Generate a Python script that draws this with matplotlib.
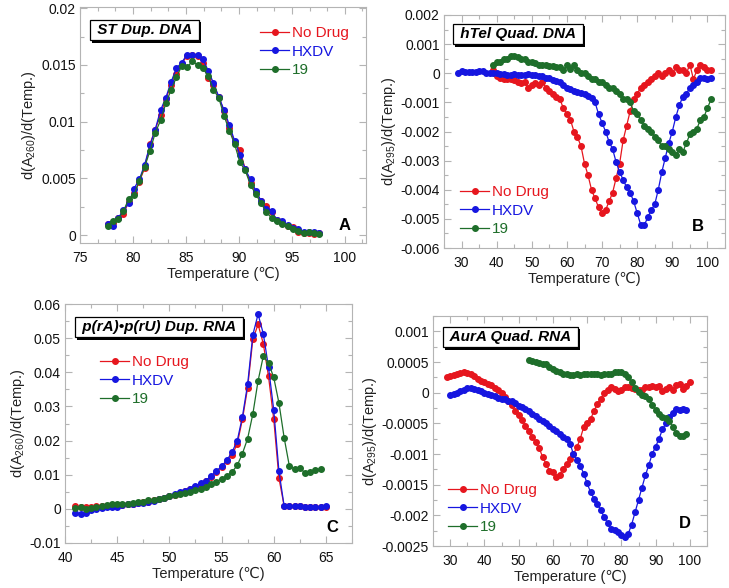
import matplotlib
matplotlib.use('Agg')
import matplotlib.pyplot as plt
from matplotlib.ticker import AutoMinorLocator, MultipleLocator, FuncFormatter
import matplotlib.patheffects as pe
from matplotlib.lines import Line2D

plt.rcParams['font.family'] = ['Liberation Sans', 'DejaVu Sans']
plt.rcParams['mathtext.fontset'] = 'custom'
plt.rcParams['mathtext.rm'] = 'Liberation Sans'
plt.rcParams['mathtext.default'] = 'regular'

# ---------------- data ----------------
labels = ['No Drug', 'HXDV', '19']
colors = ['#e6161e', '#1616e0', '#1e6e2a']

# Panel A: ST duplex DNA
a_x = [77.6, 78.1, 78.6, 79.1, 79.6, 80.1, 80.6, 81.1, 81.6, 82.1, 82.6, 83.1, 83.6, 84.1,
       84.6, 85.1, 85.6, 86.1, 86.6, 87.1, 87.6, 88.1, 88.6, 89.1, 89.6, 90.1, 90.6, 91.1,
       91.6, 92.1, 92.6, 93.1, 93.6, 94.1, 94.6, 95.1, 95.6, 96.1, 96.6, 97.1, 97.6]
a_nodrug = [0.0010, 0.0011, 0.0015, 0.0019, 0.0029, 0.0037, 0.0047, 0.0059, 0.0080, 0.0093,
            0.0106, 0.0120, 0.0132, 0.0142, 0.0151, 0.0158, 0.0159, 0.0158, 0.0152, 0.0138,
            0.0132, 0.0122, 0.0109, 0.0094, 0.0082, 0.0075, 0.0058, 0.0046, 0.0038, 0.0030,
            0.0026, 0.0020, 0.0013, 0.0011, 0.0008, 0.0007, 0.0003, 0.0002, 0.0002, 0.0001, 0.0002]
a_hxdv = [0.0010, 0.0008, 0.0015, 0.0022, 0.0028, 0.0041, 0.0049, 0.0062, 0.0079, 0.0093,
          0.0110, 0.0121, 0.0135, 0.0147, 0.0152, 0.0159, 0.0159, 0.0159, 0.0155, 0.0145,
          0.0134, 0.0122, 0.0110, 0.0097, 0.0083, 0.0071, 0.0058, 0.0049, 0.0039, 0.0030,
          0.0023, 0.0021, 0.0013, 0.0012, 0.0009, 0.0006, 0.0005, 0.0003, 0.0003, 0.0003, 0.0002]
a_19 = [0.0008, 0.0012, 0.0014, 0.0021, 0.0032, 0.0035, 0.0048, 0.0060, 0.0074, 0.0090,
        0.0101, 0.0116, 0.0128, 0.0139, 0.0149, 0.0148, 0.0153, 0.0150, 0.0147, 0.0140,
        0.0128, 0.0121, 0.0105, 0.0092, 0.0080, 0.0064, 0.0057, 0.0044, 0.0036, 0.0028,
        0.0020, 0.0015, 0.0012, 0.0010, 0.0008, 0.0005, 0.0004, 0.0002, 0.0003, 0.0002, 0.0001]

# Panel B: hTel quadruplex DNA
b_x_nodrug = [39, 40, 41, 42, 43, 44, 45, 46, 47, 48, 49, 50, 51, 52, 53, 54, 55, 56, 57, 58,
              59, 60, 61, 62, 63, 64, 65, 66, 67, 68, 69, 70, 71, 72, 73, 74, 75, 76, 77, 78,
              79, 80, 81, 82, 83, 84, 85, 86, 87, 88, 89, 90, 91, 92, 93, 94, 95, 96, 97, 98,
              99, 100, 101]
b_nodrug = [0.0001, -0.0001, -0.00015, -0.0002, -0.0002, -0.0002, -0.00022, -0.0003, -0.00035, -0.0003,
            -0.0005, -0.0004, -0.00035, -0.0004, -0.0003, -0.0005, -0.0006, -0.0007, -0.0008, -0.0009,
            -0.0012, -0.0014, -0.0016, -0.0020, -0.0022, -0.0025, -0.0031, -0.0035, -0.0040, -0.0043,
            -0.0046, -0.0048, -0.0047, -0.0044, -0.0041, -0.0036, -0.0031, -0.0023, -0.0018, -0.0013,
            -0.0009, -0.0007, -0.0005, -0.0004, -0.0003, -0.0002, -0.0001, 0.0000, -0.0001, 0.0000,
            0.0001, 0.0000, 0.0002, 0.0001, 0.0001, 0.0000, 0.0003, -0.0002, 0.0001, 0.0003,
            0.0002, 0.0001, 0.0001]
b_x_hxdv = [29, 30, 31, 32, 33, 34, 35, 36, 37, 38, 39, 40, 41, 42, 43, 44, 45, 46, 47, 48,
            49, 50, 51, 52, 53, 54, 55, 56, 57, 58, 59, 60, 61, 62, 63, 64, 65, 66, 67, 68,
            69, 70, 71, 72, 73, 74, 75, 76, 77, 78, 79, 80, 81, 82, 83, 84, 85, 86, 87, 88,
            89, 90, 91, 92, 93, 94, 95, 96, 97, 98, 99, 100, 101]
b_hxdv = [0.0000, 0.00008, 0.00006, 0.00005, 0.00006, 0.00004, 0.00007, 0.00008, 0.00002, 0.0000,
          0.00002, 0.0000, -0.00002, -0.00003, -0.00005, -0.00005, -0.00004, -0.00005, -0.00006, -0.00005,
          -0.00004, -0.00006, -0.00005, -0.00008, -0.0001, -0.00015, -0.00018, -0.00022, -0.00028, -0.0003,
          -0.00042, -0.00052, -0.00055, -0.0006, -0.00064, -0.00068, -0.0007, -0.00078, -0.00086, -0.001,
          -0.0014, -0.0017, -0.0020, -0.00235, -0.0026, -0.00305, -0.0034, -0.00365, -0.00392, -0.0041,
          -0.0044, -0.0048, -0.0052, -0.00522, -0.00495, -0.0047, -0.0045, -0.0040, -0.0034, -0.0029,
          -0.0024, -0.0020, -0.0015, -0.0011, -0.0008, -0.0007, -0.0005, -0.0004, -0.0003, -0.00015,
          -0.00018, -0.0002, -0.00018]
b_x_19 = [39, 40, 41, 42, 43, 44, 45, 46, 47, 48, 49, 50, 51, 52, 53, 54, 55, 56, 57, 58,
          59, 60, 61, 62, 63, 64, 65, 66, 67, 68, 69, 70, 71, 72, 73, 74, 75, 76, 77, 78,
          79, 80, 81, 82, 83, 84, 85, 86, 87, 88, 89, 90, 91, 92, 93, 94, 95, 96, 97, 98,
          99, 100, 101]
b_19 = [0.0003, 0.0004, 0.0004, 0.0005, 0.0005, 0.0006, 0.00058, 0.00055, 0.0005, 0.0005,
        0.0004, 0.0004, 0.00035, 0.0003, 0.0003, 0.00028, 0.00025, 0.00025, 0.0002, 0.0002,
        0.0001, 0.0003, 0.00015, 0.0003, 0.0001, 0.0000, 0.0000, -0.0001, -0.0002, -0.0002,
        -0.0003, -0.0003, -0.0004, -0.0005, -0.0005, -0.0006, -0.0007, -0.0009, -0.0009, -0.0010,
        -0.0013, -0.0014, -0.0016, -0.0018, -0.0019, -0.0020, -0.0022, -0.0023, -0.0025, -0.0025,
        -0.0026, -0.0027, -0.0028, -0.0026, -0.0027, -0.0024, -0.0021, -0.0020, -0.0019, -0.0016,
        -0.0015, -0.0012, -0.0009]

# Panel C: p(rA).p(rU) duplex RNA
c_x = [41, 41.5, 42, 42.5, 43, 43.5, 44, 44.5, 45, 45.5, 46, 46.5, 47, 47.5, 48, 48.5, 49,
       49.5, 50, 50.5, 51, 51.5, 52, 52.5, 53, 53.5, 54, 54.5, 55, 55.5, 56, 56.5, 57, 57.5,
       58, 58.5, 59, 59.5, 60, 60.5, 61, 61.5, 62, 62.5, 63, 63.5, 64, 64.5, 65]
c_nodrug = [0.0007, 0.0006, 0.0006, 0.0006, 0.0007, 0.0008, 0.0009, 0.0010, 0.0011, 0.0012,
            0.0013, 0.0015, 0.0017, 0.0019, 0.0021, 0.0025, 0.0029, 0.0033, 0.0037, 0.0042,
            0.0047, 0.0052, 0.0058, 0.0065, 0.0073, 0.0082, 0.0093, 0.0107, 0.0123, 0.0140,
            0.0157, 0.0190, 0.0262, 0.0355, 0.0497, 0.0540, 0.0484, 0.0388, 0.0263, 0.0090,
            0.0008, 0.0007, 0.0008, 0.0007, 0.0006, 0.0005, 0.0005, 0.0005, 0.0006]
c_hxdv = [-0.0012, -0.0014, -0.0012, -0.0003, 0.0000, 0.0002, 0.0004, 0.0005, 0.0006, 0.0010,
          0.0013, 0.0014, 0.0016, 0.0018, 0.0019, 0.0022, 0.0028, 0.0033, 0.0038, 0.0043,
          0.0048, 0.0052, 0.0057, 0.0066, 0.0075, 0.0083, 0.0096, 0.0110, 0.0125, 0.0142,
          0.0166, 0.0199, 0.0270, 0.0365, 0.0510, 0.0570, 0.0513, 0.0415, 0.0290, 0.0110,
          0.0008, 0.0008, 0.0007, 0.0007, 0.0006, 0.0005, 0.0005, 0.0005, 0.0007]
c_x_19 = [41, 41.5, 42, 42.5, 43, 43.5, 44, 44.5, 45, 45.5, 46, 46.5, 47, 47.5, 48, 48.5, 49,
          49.5, 50, 50.5, 51, 51.5, 52, 52.5, 53, 53.5, 54, 54.5, 55, 55.5, 56, 56.5, 57, 57.5,
          58, 58.5, 59, 59.5, 60, 60.5, 61, 61.5, 62, 62.5, 63, 63.5, 64, 64.5]
c_19 = [0.0003, 0.0004, 0.0000, 0.0003, 0.0005, 0.0009, 0.0011, 0.0013, 0.0014, 0.0013,
        0.0014, 0.0016, 0.0019, 0.0021, 0.0025, 0.0027, 0.0030, 0.0033, 0.0037, 0.0040,
        0.0043, 0.0046, 0.0050, 0.0054, 0.0058, 0.0063, 0.0072, 0.0080, 0.0088, 0.0096,
        0.0108, 0.0127, 0.0162, 0.0206, 0.0278, 0.0375, 0.0447, 0.0427, 0.0385, 0.0310,
        0.0208, 0.0125, 0.0117, 0.0120, 0.0105, 0.0108, 0.0113, 0.0118]

# Panel D: AurA quadruplex RNA
d_x_nodrug = [29, 30, 31, 32, 33, 34, 35, 36, 37, 38, 39, 40, 41, 42, 43, 44, 45, 46, 47, 48,
              49, 50, 51, 52, 53, 54, 55, 56, 57, 58, 59, 60, 61, 62, 63, 64, 65, 66, 67, 68,
              69, 70, 71, 72, 73, 74, 75, 76, 77, 78, 79, 80, 81, 82, 83, 84, 85, 86, 87, 88,
              89, 90, 91, 92, 93, 94, 95, 96, 97, 98, 99, 100]
d_nodrug = [0.00025, 0.00027, 0.00029, 0.0003, 0.00032, 0.00033, 0.00032, 0.0003, 0.00027, 0.00022,
            0.00019, 0.00017, 0.00014, 0.00012, 0.00008, 0.00004, 0.0, -0.00007, -0.00013, -0.0002,
            -0.0003, -0.00037, -0.00045, -0.00054, -0.00062, -0.00073, -0.0008, -0.0009, -0.00105, -0.00116,
            -0.00127, -0.0013, -0.00138, -0.00134, -0.00124, -0.00116, -0.00108, -0.001, -0.00089, -0.00075,
            -0.00056, -0.0005, -0.00043, -0.0003, -0.00018, -0.0001, 0.0, 0.00004, 0.00009, 0.00006,
            0.00003, 0.00005, 0.00009, 0.0001, 0.00008, 0.00006, 0.00005, 0.00005, 0.00009, 0.0001,
            0.00011, 0.00009, 0.00011, 0.00003, 0.00006, 0.00009, 0.00004, 0.00012, 0.00014, 0.00006,
            0.00011, 0.00018]
d_x_hxdv = [30, 31, 32, 33, 34, 35, 36, 37, 38, 39, 40, 41, 42, 43, 44, 45, 46, 47, 48, 49,
            50, 51, 52, 53, 54, 55, 56, 57, 58, 59, 60, 61, 62, 63, 64, 65, 66, 67, 68, 69,
            70, 71, 72, 73, 74, 75, 76, 77, 78, 79, 80, 81, 82, 83, 84, 85, 86, 87, 88, 89,
            90, 91, 92, 93, 94, 95, 96, 97, 98, 99]
d_hxdv = [-0.00003, -0.00002, 0.0, 0.00003, 0.00005, 0.00007, 0.00007, 0.00006, 0.00005, 0.00003,
          0.0, -0.00002, -0.00003, -0.00005, -0.00008, -0.0001, -0.00011, -0.00013, -0.00014, -0.00017,
          -0.00021, -0.00024, -0.00027, -0.0003, -0.00034, -0.00038, -0.00043, -0.00047, -0.0005, -0.00055,
          -0.00059, -0.00063, -0.00068, -0.00072, -0.00076, -0.00083, -0.001, -0.0011, -0.00119, -0.00132,
          -0.00148, -0.00162, -0.00173, -0.00181, -0.00192, -0.00203, -0.00213, -0.00222, -0.00224, -0.00227,
          -0.00232, -0.00235, -0.0023, -0.00215, -0.00195, -0.00175, -0.00155, -0.00135, -0.00118, -0.001,
          -0.00088, -0.00075, -0.0006, -0.0005, -0.0004, -0.00033, -0.00027, -0.00028, -0.00026, -0.00029]
d_x_19 = [53, 54, 55, 56, 57, 58, 59, 60, 61, 62, 63, 64, 65, 66, 67, 68, 69, 70, 71, 72,
          73, 74, 75, 76, 77, 78, 79, 80, 81, 82, 83, 84, 85, 86, 87, 88, 89, 90, 91, 92,
          93, 94, 95, 96, 97, 98, 99]
d_19 = [0.00053, 0.00052, 0.0005, 0.00048, 0.00047, 0.00046, 0.00042, 0.00038, 0.00035, 0.00033,
        0.00031, 0.0003, 0.00028, 0.00029, 0.0003, 0.00029, 0.0003, 0.0003, 0.00031, 0.0003,
        0.0003, 0.00029, 0.0003, 0.0003, 0.00031, 0.00034, 0.00034, 0.00033, 0.00031, 0.00026,
        0.00018, 0.00008, 0.00001, -0.00003, -0.00006, -0.0001, -0.0002, -0.00028, -0.00035, -0.0004,
        -0.00042, -0.00046, -0.00056, -0.00066, -0.00071, -0.00071, -0.00068]

# ---------------- figure ----------------
W, H = 729, 588
fig = plt.figure(figsize=(W / 100, H / 100), dpi=100)


def ax_px(l, t, r, b):
    return fig.add_axes([l / W, 1 - b / H, (r - l) / W, (b - t) / H])


fmt = FuncFormatter(lambda v, p: '%g' % round(v, 7))
FS = 10.5
TFS = 10


def style(ax, xlim, ylim, xmaj, ymaj, xminor, yminor, ylabel):
    ax.set_xlim(*xlim)
    ax.set_ylim(*ylim)
    ax.xaxis.set_major_locator(MultipleLocator(xmaj))
    ax.yaxis.set_major_locator(MultipleLocator(ymaj))
    ax.xaxis.set_minor_locator(AutoMinorLocator(xminor))
    ax.yaxis.set_minor_locator(AutoMinorLocator(yminor))
    ax.yaxis.set_major_formatter(fmt)
    ax.xaxis.set_major_formatter(fmt)
    for s in ax.spines.values():
        s.set_color('#b4b4b4')
        s.set_linewidth(0.8)
    ax.tick_params(which='both', direction='in', top=True, right=True, color='#b4b4b4', width=0.8)
    ax.tick_params(which='major', length=5, labelsize=TFS, labelcolor='#111111')
    ax.tick_params(axis='y', which='major', pad=3)
    ax.tick_params(axis='x', which='major', pad=6)
    ax.tick_params(which='minor', length=3)
    ax.set_xlabel('Temperature (\u2103)', fontsize=FS, labelpad=1, color='#222222')
    ax.set_ylabel(ylabel, fontsize=FS, labelpad=2, color='#222222')


def plot_series(ax, xs, ys):
    for x, y, c in zip(xs, ys, colors):
        ax.plot(x, y, '-', color=c, lw=0.9, marker='o', ms=4, mec=c, mfc=c)


def legend(ax, lx, ty):
    handles = [Line2D([], [], color=c, lw=0.9, marker='o', ms=4) for c in colors]
    ax.legend(handles, labels, loc='upper left', bbox_to_anchor=(lx / W, 1 - ty / H),
              bbox_transform=fig.transFigure, frameon=False, handlelength=1.9,
              handletextpad=0.2, labelspacing=0.3, borderpad=0, borderaxespad=0,
              fontsize=FS + 0.5, labelcolor='linecolor')


def title_box(lx, cy, s):
    t = fig.text(lx / W, 1 - cy / H, s, ha='left', va='center',
                 fontsize=11, fontweight='bold', fontstyle='italic', color='black',
                 bbox=dict(boxstyle='square,pad=0.22', fc='white', ec='black', lw=0.9))
    t.get_bbox_patch().set_path_effects([
        pe.SimplePatchShadow(offset=(1.6, -1.6), shadow_rgbFace='black', alpha=1.0),
        pe.Normal()])


def letter(cx, cy, s):
    fig.text(cx / W, 1 - cy / H, s, ha='center', va='center', fontsize=12, fontweight='bold')


# A
axA = ax_px(80, 7, 366, 243)
plot_series(axA, [a_x, a_x, a_x], [a_nodrug, a_hxdv, a_19])
style(axA, (75, 102), (-0.0007, 0.0201), 5, 0.005, 3, 2, 'd(A$_{260}$)/d(Temp.)')
legend(axA, 260, 26)
title_box(93, 30, ' ST Dup. DNA ')
letter(345, 226, 'A')

# B
axB = ax_px(444, 15, 725, 248)
plot_series(axB, [b_x_nodrug, b_x_hxdv, b_x_19], [b_nodrug, b_hxdv, b_19])
style(axB, (25, 105), (-0.006, 0.002), 10, 0.001, 2, 2, 'd(A$_{295}$)/d(Temp.)')
legend(axB, 460, 185)
title_box(456, 34, ' hTel Quad. DNA ')
letter(698, 227, 'B')

# C
axC = ax_px(65, 304, 352, 543)
plot_series(axC, [c_x, c_x, c_x_19], [c_nodrug, c_hxdv, c_19])
style(axC, (40, 67.5), (-0.01, 0.06), 5, 0.01, 2, 2, 'd(A$_{260}$)/d(Temp.)')
legend(axC, 100, 355)
title_box(78, 327, ' p(rA)\u2022p(rU) Dup. RNA ')
letter(332, 527, 'C')

# D
axD = ax_px(433, 316, 707, 546)
plot_series(axD, [d_x_nodrug, d_x_hxdv, d_x_19], [d_nodrug, d_hxdv, d_19])
style(axD, (25, 105), (-0.0025, 0.00125), 10, 0.0005, 2, 2, 'd(A$_{295}$)/d(Temp.)')
legend(axD, 448, 483)
title_box(446, 337, ' AurA Quad. RNA ')
letter(685, 523, 'D')

fig.savefig('out.png', dpi=100)
